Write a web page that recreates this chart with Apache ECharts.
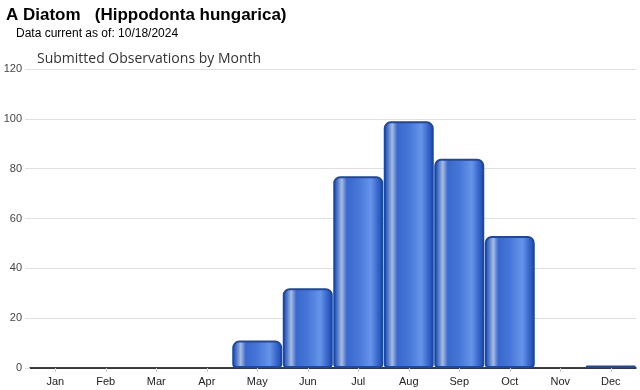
<!DOCTYPE html>
<html><head><meta charset="utf-8">
<script src="https://cdn.jsdelivr.net/npm/echarts@6/dist/echarts.min.js"></script>
<style>html,body{margin:0;padding:0;background:#fff}#c{width:640px;height:390px}</style>
</head><body><div id="c"></div>
<script>
const months = ['Jan','Feb','Mar','Apr','May','Jun','Jul','Aug','Sep','Oct','Nov','Dec'];
const observations = [0,0,0,0,11,32,77,99,84,53,0,1];
const yTicks = [0,20,40,60,80,100,120];

const chart = echarts.init(document.getElementById('c'), null, {renderer:'canvas'});
const barGrad = new echarts.graphic.LinearGradient(0,0,1,0,[
  {offset:0, color:'#1a48a8'},
  {offset:0.08, color:'#4a74c8'},
  {offset:0.17, color:'#a8bce0'},
  {offset:0.27, color:'#3a68cc'},
  {offset:0.5, color:'#4676d8'},
  {offset:0.75, color:'#6694ea'},
  {offset:0.9, color:'#3463c8'},
  {offset:1, color:'#1a48a8'}
]);
chart.setOption({
  animation:false,
  title:[
    {text:'A Diatom   (Hippodonta hungarica)', left:1, top:2,
     textStyle:{fontFamily:'Liberation Sans, Arial', fontWeight:'bold', fontSize:17, color:'#000'}},
    {text:'Data current as of: 10/18/2024', left:11, top:23,
     textStyle:{fontFamily:'Liberation Sans, Arial', fontWeight:'normal', fontSize:12, color:'#000'}},
    {text:'Submitted Observations by Month', left:32, top:47,
     textStyle:{fontFamily:'Open Sans, DejaVu Sans', fontWeight:'normal', fontSize:14, color:'#333'}}
  ],
  grid:{left:30, right:4, top:69, bottom:22},
  xAxis:{type:'category', data:months,
    axisLine:{lineStyle:{color:'#000', width:1.5}},
    axisTick:{show:true, alignWithLabel:true, length:4, lineStyle:{color:'#ccc'}},
    axisLabel:{fontFamily:'Liberation Sans, Arial', fontSize:11, color:'#222', margin:8}
  },
  yAxis:{type:'value', min:0, max:120, interval:20,
    axisLine:{show:false},
    axisTick:{show:true, length:5, lineStyle:{color:'#e0e0e0'}},
    splitLine:{lineStyle:{color:'#e0e0e0'}},
    axisLabel:{fontFamily:'Liberation Sans, Arial', fontSize:11, color:'#444', margin:8,
      formatter:v=>yTicks.includes(v)?String(v):''}
  },
  series:[{type:'bar', data:observations.map(v=>v===0?null:v), barCategoryGap:'1%',
    itemStyle:{color:barGrad, borderColor:'#1848a8', borderWidth:2, borderRadius:[6,6,3,3]}
  }]
});
</script></body></html>
